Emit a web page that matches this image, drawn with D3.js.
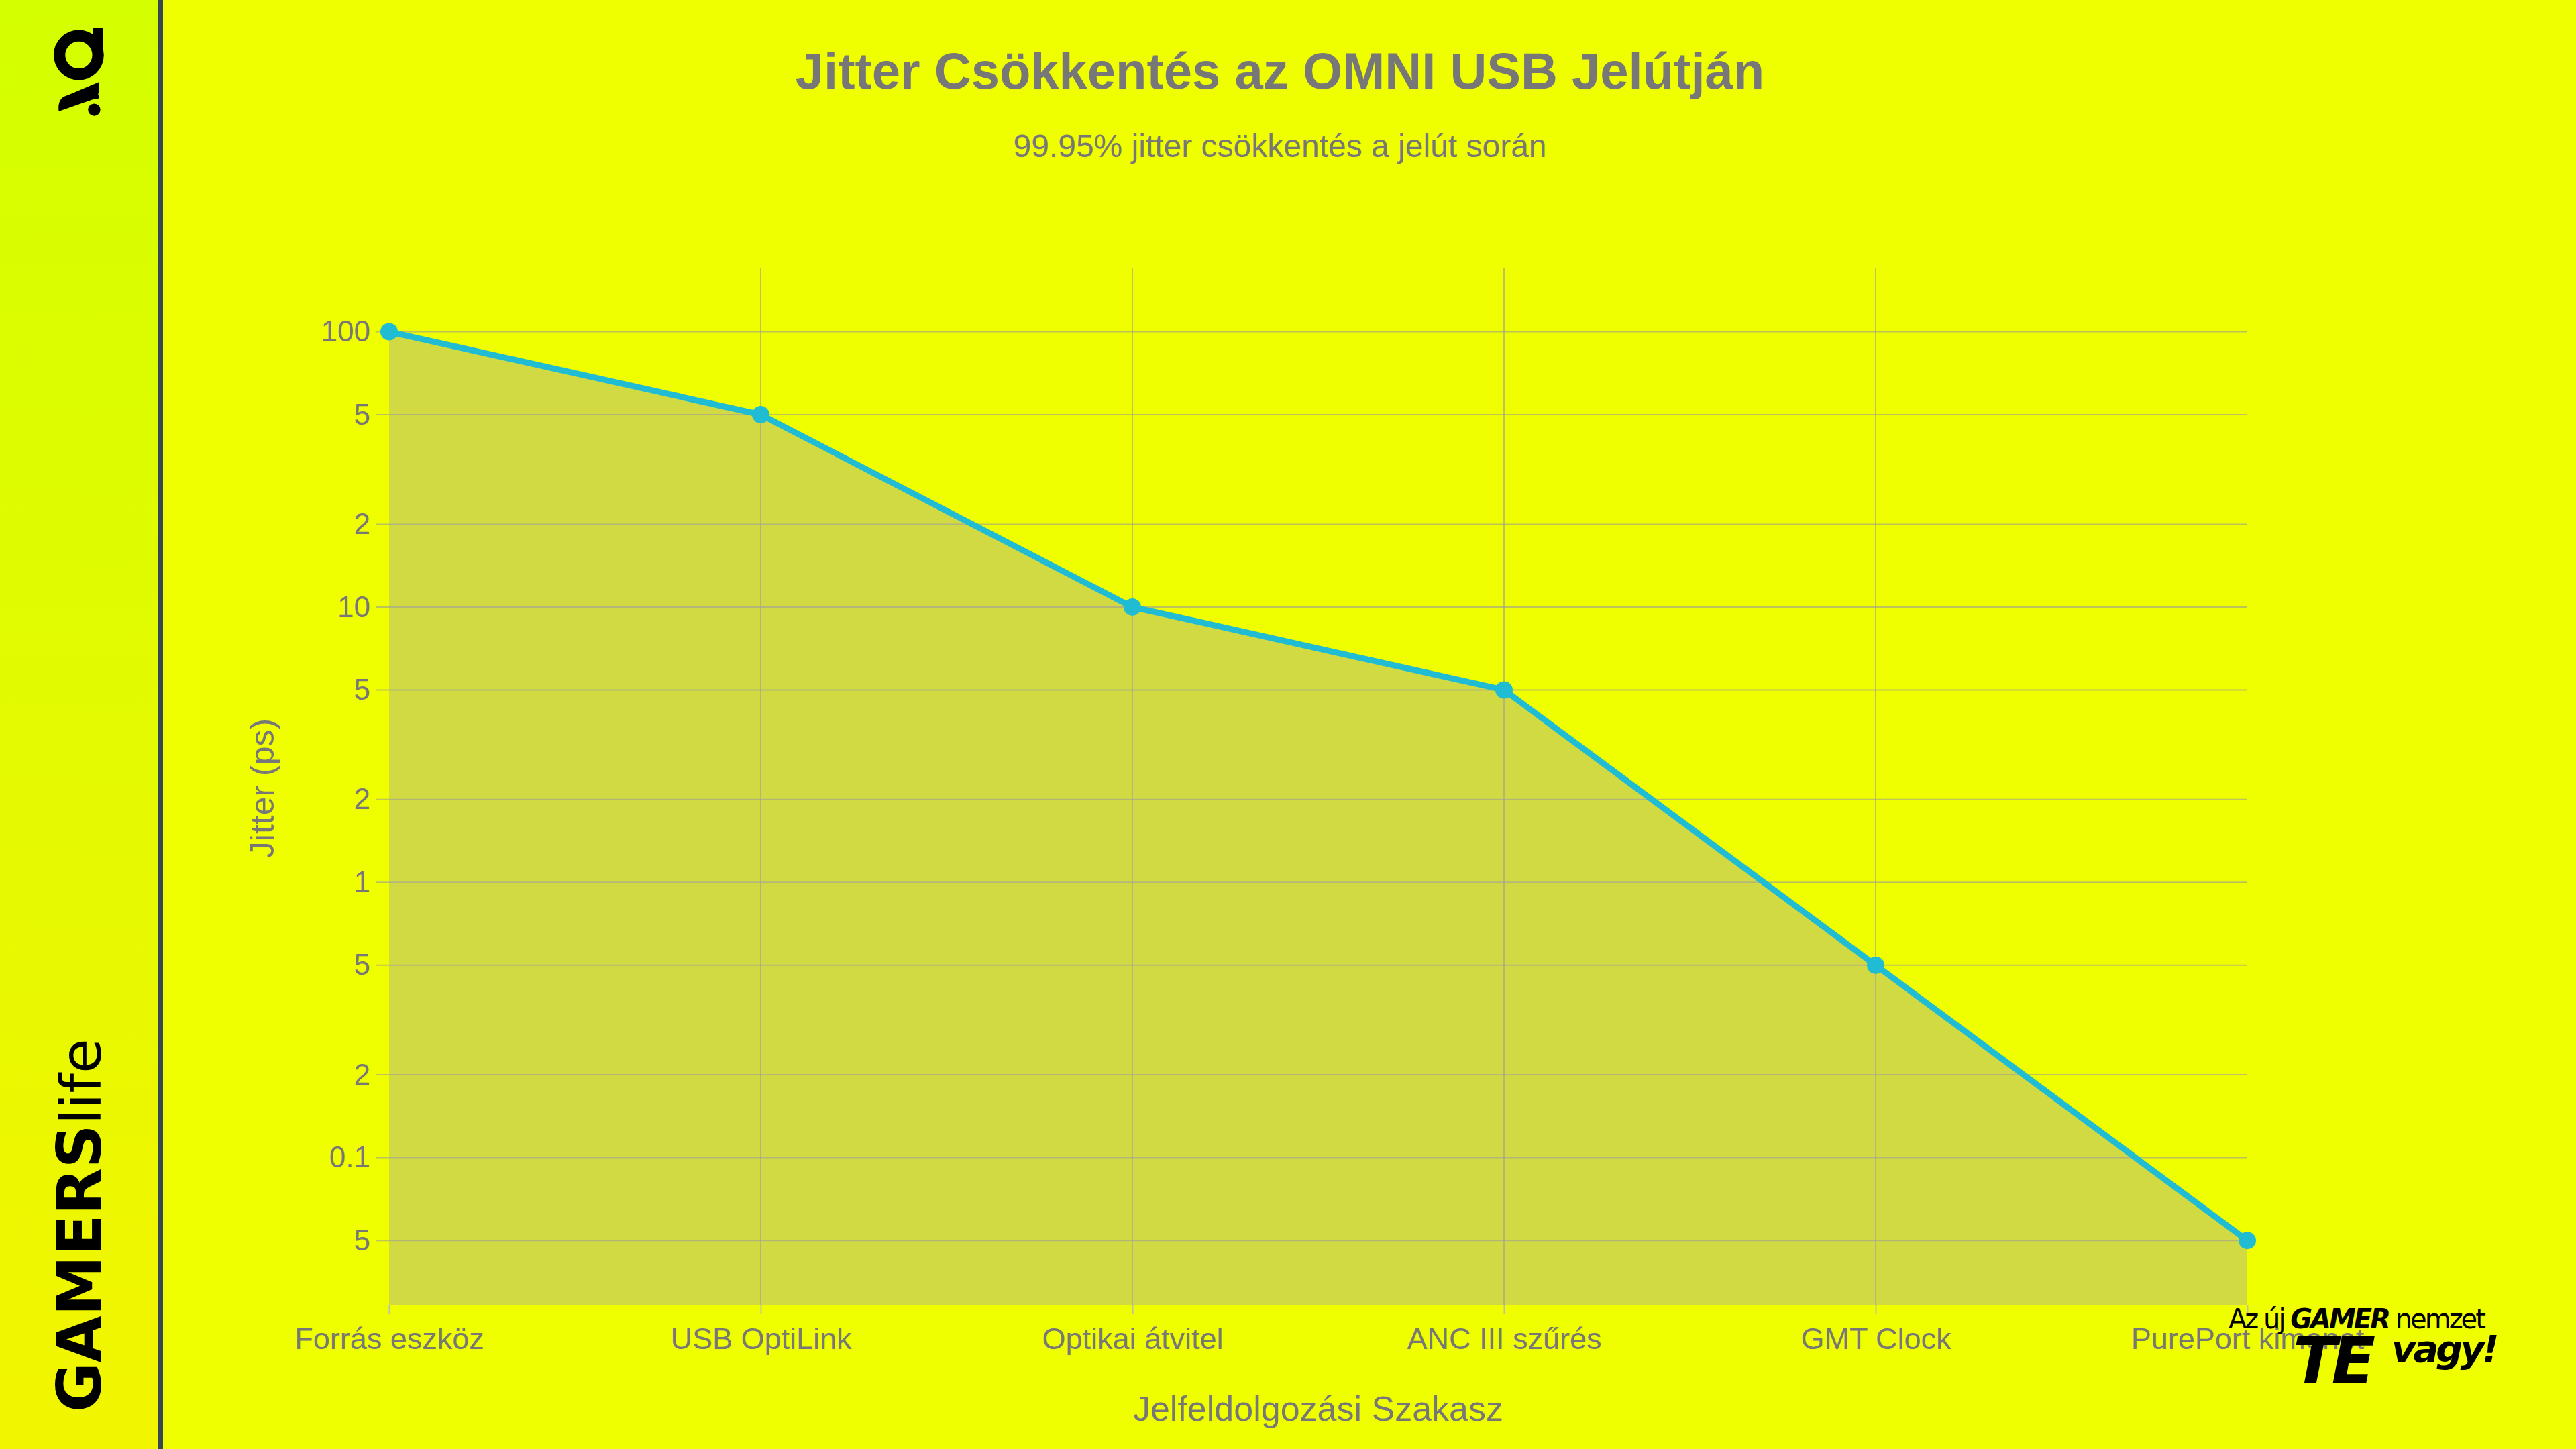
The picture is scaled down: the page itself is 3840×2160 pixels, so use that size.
<!DOCTYPE html>
<html>
<head>
<meta charset="utf-8">
<script src="https://cdn.jsdelivr.net/npm/d3@7"></script>
<style>
  body { margin: 0; background: #f0ff00; }
  svg { display: block; }
</style>
</head>
<body>
<svg id="chart" width="3840" height="2160"></svg>
<script>
const stages = ["Forrás eszköz", "USB OptiLink", "Optikai átvitel", "ANC III szűrés", "GMT Clock", "PurePort kimenet"];
const jitter = [100, 50, 10, 5, 0.5, 0.05];
const yTicks = [100, 50, 20, 10, 5, 2, 1, 0.5, 0.2, 0.1, 0.05];
const yTickLabels = ["100", "5", "2", "10", "5", "2", "1", "5", "2", "0.1", "5"];

const font = "'Liberation Sans', Arial, sans-serif";
const grey = "#777";
const svg = d3.select("#chart");

// sidebar
const grad = svg.append("defs").append("linearGradient")
    .attr("id", "side").attr("x1", 0).attr("y1", 0).attr("x2", 0).attr("y2", 1);
grad.append("stop").attr("offset", "0%").attr("stop-color", "#d4ff00");
grad.append("stop").attr("offset", "100%").attr("stop-color", "#f2f500");
svg.append("rect").attr("width", 3840).attr("height", 2160).attr("fill", "#f0ff00");
svg.append("rect").attr("width", 236).attr("height", 2160).attr("fill", "url(#side)");
svg.append("rect").attr("x", 236).attr("width", 7).attr("height", 2160).attr("fill", "#37474f");

// logo "g"
const logo = svg.append("g").attr("fill", "#000").attr("transform", "translate(30,-2) scale(1.15)");
logo.append("circle").attr("cx", 76).attr("cy", 73).attr("r", 25)
    .attr("fill", "none").attr("stroke", "#000").attr("stroke-width", 15);
logo.append("rect").attr("x", 94).attr("y", 38).attr("width", 13).attr("height", 45);
logo.append("path").attr("d", "M50 146 L102 124 Q104 132 96 130 L50 146 Q48 128 62 125 L102 108 Q104 126 96 130 Z");
logo.append("circle").attr("cx", 96).attr("cy", 144).attr("r", 8);

svg.append("text")
    .attr("transform", "translate(150,2105) rotate(-90)")
    .attr("font-family", "'DejaVu Sans', sans-serif").attr("font-size", 90).attr("fill", "#000")
    .call(t => {
        t.append("tspan").attr("font-weight", "bold").text("GAMERS");
        t.append("tspan").attr("font-weight", "normal").attr("font-size", 84).text("life");
    });

// chart
const m = { left: 580, right: 3350, top: 400, bottom: 1945 };
const x = d3.scalePoint().domain(stages).range([m.left, m.right]);
const y = d3.scaleLog().domain([0.0292, 170]).range([m.bottom, m.top]);

const grid = svg.append("g").attr("stroke", "#999").attr("stroke-opacity", 0.6).attr("stroke-width", 2);
grid.selectAll("line.h").data(yTicks).join("line")
    .attr("x1", m.left - 20).attr("x2", m.right).attr("y1", d => y(d)).attr("y2", d => y(d));
grid.selectAll("line.v").data(stages.slice(1, -1)).join("line")
    .attr("x1", d => x(d)).attr("x2", d => x(d)).attr("y1", m.top).attr("y2", m.bottom);

const area = d3.area().x((d, i) => x(stages[i])).y0(m.bottom).y1(d => y(d));
svg.append("path").datum(jitter).attr("d", area).attr("fill", "#a8a8a0").attr("fill-opacity", 0.42);

const line = d3.line().x((d, i) => x(stages[i])).y(d => y(d));
svg.append("path").datum(jitter).attr("d", line)
    .attr("fill", "none").attr("stroke", "#1fbcd4").attr("stroke-width", 9);
svg.selectAll("circle.pt").data(jitter).join("circle")
    .attr("cx", (d, i) => x(stages[i])).attr("cy", d => y(d)).attr("r", 13).attr("fill", "#1fbcd4");

// axes
const yAxis = svg.append("g").attr("transform", `translate(${m.left},0)`)
    .call(d3.axisLeft(y).tickValues(yTicks).tickFormat((d, i) => yTickLabels[i]).tickSize(0).tickPadding(28));
yAxis.select(".domain").remove();
yAxis.selectAll("text").attr("font-family", font).attr("font-size", 44).attr("fill", grey);

const xAxis = svg.append("g").attr("transform", `translate(0,${m.bottom})`)
    .call(d3.axisBottom(x).tickSize(14).tickPadding(20));
xAxis.select(".domain").remove();
xAxis.selectAll("line").attr("stroke", "#bbb").attr("stroke-width", 2);
xAxis.selectAll("text").attr("font-family", font).attr("font-size", 45).attr("fill", grey);

svg.append("text").attr("x", 1965).attr("y", 2118).attr("text-anchor", "middle")
    .attr("font-family", font).attr("font-size", 52).attr("fill", grey).text("Jelfeldolgozási Szakasz");
svg.append("text").attr("transform", "translate(408,1175) rotate(-90)").attr("text-anchor", "middle")
    .attr("font-family", font).attr("font-size", 50).attr("fill", grey).text("Jitter (ps)");

// titles
svg.append("text").attr("x", 1908).attr("y", 132).attr("text-anchor", "middle")
    .attr("font-family", font).attr("font-size", 76).attr("font-weight", "bold").attr("fill", grey)
    .text("Jitter Csökkentés az OMNI USB Jelútján");
svg.append("text").attr("x", 1908).attr("y", 234).attr("text-anchor", "middle")
    .attr("font-family", font).attr("font-size", 48).attr("fill", grey)
    .text("99.95% jitter csökkentés a jelút során");

// slogan badge
const sl = svg.append("g").attr("font-family", "'DejaVu Sans', sans-serif").attr("fill", "#000");
sl.append("text").attr("x", 3322).attr("y", 1980).attr("font-size", 40).attr("letter-spacing", -3)
    .call(t => {
        t.append("tspan").text("Az új ");
        t.append("tspan").attr("font-weight", "bold").attr("font-style", "italic").text("GAMER");
        t.append("tspan").text(" nemzet");
    });
sl.append("text").attr("x", 3418).attr("y", 2062).attr("font-size", 96).attr("font-weight", "bold")
    .attr("font-style", "italic").attr("letter-spacing", -8).text("TE");
sl.append("text").attr("x", 3565).attr("y", 2030).attr("font-size", 56).attr("font-weight", "bold")
    .attr("font-style", "italic").attr("letter-spacing", -4).text("vagy!");
</script>
</body>
</html>
